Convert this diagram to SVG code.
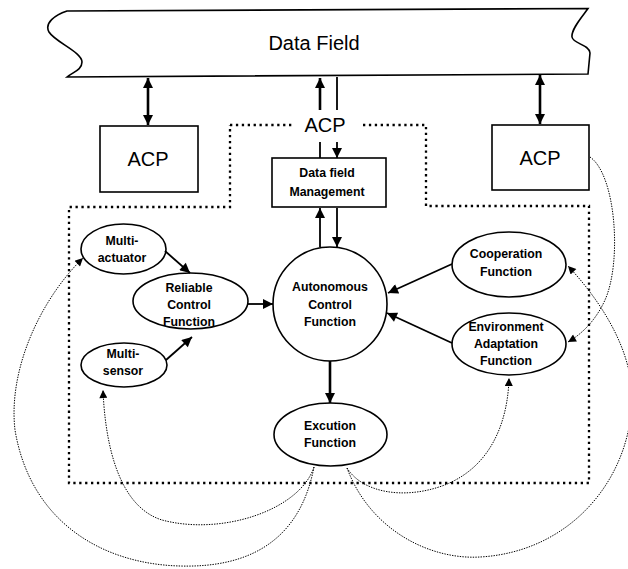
<svg xmlns="http://www.w3.org/2000/svg" width="628" height="569" viewBox="0 0 628 569">
<defs>
<marker id="ah" viewBox="0 0 10 10" refX="10" refY="5" markerWidth="11" markerHeight="10" markerUnits="userSpaceOnUse" orient="auto-start-reverse"><path d="M0,0 L10,5 L0,10 z" fill="#000"/></marker>
<marker id="ahs" viewBox="0 0 10 10" refX="10" refY="5" markerWidth="10" markerHeight="8" markerUnits="userSpaceOnUse" orient="auto"><path d="M0,0 L10,5 L0,10 z" fill="#000"/></marker>
</defs>
<style>
.big{font-family:"Liberation Sans",Arial,sans-serif;font-size:20px;fill:#000;text-anchor:middle}
.lbl{font-family:"Liberation Sans",Arial,sans-serif;font-size:12.3px;font-weight:bold;fill:#000;text-anchor:middle}
.shape{fill:#fff;stroke:#000;stroke-width:1.6}
.thick{fill:none;stroke:#000;stroke-width:2.6}
.mid{fill:none;stroke:#000;stroke-width:1.8}
.dot{fill:none;stroke:#000;stroke-width:1;stroke-dasharray:1.4 1.2}
.bound{fill:none;stroke:#000;stroke-width:2.3;stroke-dasharray:2.3 3.6}
</style>
<rect width="628" height="569" fill="#fff"/>
<g id="boundary">
<path class="bound" d="M230,125 H293"/>
<path class="bound" d="M363,125 H426 V206 H589 V483 H69 V207 H230 V125"/>
</g>
<g id="data-field">
<path class="shape" d="M67,11 L588,8.5 C582,17 571,29 572,37 C573,44 589,44 590,53 L588,74 L67,77 C73,72 82,70 82,62 C82,52 55,42 49,32 C44,23 55,15 67,11 Z"/>
<text class="big" x="314" y="50">Data Field</text>
</g>
<g id="acp-left">
<rect class="shape" x="100" y="126" width="98" height="66"/>
<text class="big" x="148" y="166">ACP</text>
</g>
<g id="acp-right">
<rect class="shape" x="492" y="125" width="97" height="65"/>
<text class="big" x="540" y="165">ACP</text>
</g>
<g id="acp-middle">
<text class="big" x="325" y="132">ACP</text>
</g>
<g id="data-field-management">
<rect class="shape" x="272" y="158" width="114" height="49"/>
<text class="lbl" x="327" y="177">Data field</text>
<text class="lbl" x="327" y="196">Management</text>
</g>
<g id="autonomous-control">
<circle class="shape" cx="330" cy="304" r="57"/>
<text class="lbl" x="330" y="291">Autonomous</text>
<text class="lbl" x="330" y="308.5">Control</text>
<text class="lbl" x="330" y="326">Function</text>
</g>
<g id="excution">
<ellipse class="shape" cx="330.5" cy="434.5" rx="56.5" ry="31.5"/>
<text class="lbl" x="330" y="430">Excution</text>
<text class="lbl" x="330" y="447">Function</text>
</g>
<g id="reliable-control">
<ellipse class="shape" cx="190.5" cy="301" rx="57.5" ry="28"/>
<text class="lbl" x="189" y="292">Reliable</text>
<text class="lbl" x="189" y="309">Control</text>
<text class="lbl" x="189" y="326">Function</text>
</g>
<g id="multi-actuator">
<ellipse class="shape" cx="123.5" cy="249" rx="42.5" ry="25"/>
<text class="lbl" x="122" y="245">Multi-</text>
<text class="lbl" x="122" y="262">actuator</text>
</g>
<g id="multi-sensor">
<ellipse class="shape" cx="124" cy="365" rx="43" ry="22"/>
<text class="lbl" x="123" y="358">Multi-</text>
<text class="lbl" x="123" y="375">sensor</text>
</g>
<g id="cooperation">
<ellipse class="shape" cx="509" cy="264.5" rx="57" ry="32.5"/>
<text class="lbl" x="506" y="258">Cooperation</text>
<text class="lbl" x="506" y="276">Function</text>
</g>
<g id="environment-adaptation">
<ellipse class="shape" cx="509" cy="344" rx="57" ry="31"/>
<text class="lbl" x="506" y="331">Environment</text>
<text class="lbl" x="506" y="348">Adaptation</text>
<text class="lbl" x="506" y="365">Function</text>
</g>
<g id="connectors">
<line class="thick" x1="148" y1="78" x2="148" y2="125" marker-start="url(#ah)" marker-end="url(#ah)"/>
<line class="thick" x1="540" y1="75" x2="540" y2="124" marker-start="url(#ah)" marker-end="url(#ah)"/>
<line class="thick" x1="320" y1="110" x2="320" y2="78" marker-end="url(#ah)"/>
<line class="mid" x1="337" y1="77" x2="337" y2="110"/>
<line class="mid" x1="320" y1="142" x2="320" y2="158"/>
<line class="mid" x1="337" y1="142" x2="337" y2="158" marker-end="url(#ah)"/>
<line class="mid" x1="320" y1="247" x2="320" y2="208" marker-end="url(#ah)"/>
<line class="mid" x1="337" y1="208" x2="337" y2="247" marker-end="url(#ah)"/>
<line class="thick" x1="330" y1="361" x2="330" y2="403" marker-end="url(#ah)"/>
<line class="mid" x1="248" y1="304" x2="273" y2="304" marker-end="url(#ah)"/>
<line class="mid" x1="165" y1="251" x2="190" y2="273" marker-end="url(#ah)"/>
<line class="mid" x1="166" y1="360" x2="192" y2="337" marker-end="url(#ah)"/>
<line class="mid" x1="452" y1="264" x2="388" y2="293" marker-end="url(#ah)"/>
<line class="mid" x1="452" y1="343" x2="387" y2="313" marker-end="url(#ah)"/>
<path class="dot" d="M590,157 C616,175 622,262 605,300 C596,320 582,334 568,342" marker-end="url(#ahs)"/>
<path class="dot" d="M347,468 C370,530 430,560 480,557 C570,552 630,480 632,400 C633,350 600,300 568,266" marker-end="url(#ahs)"/>
<path class="dot" d="M347,468 C362,492 402,500 442,486 C492,468 508,420 509,378" marker-end="url(#ahs)"/>
<path class="dot" d="M314,467 C300,510 222,536 162,520 C117,506 105,440 103,390" marker-end="url(#ahs)"/>
<path class="dot" d="M314,467 C300,540 250,568 180,566 C100,564 30,520 15,430 C8,370 40,300 83,258" marker-end="url(#ahs)"/>
</g>
</svg>
